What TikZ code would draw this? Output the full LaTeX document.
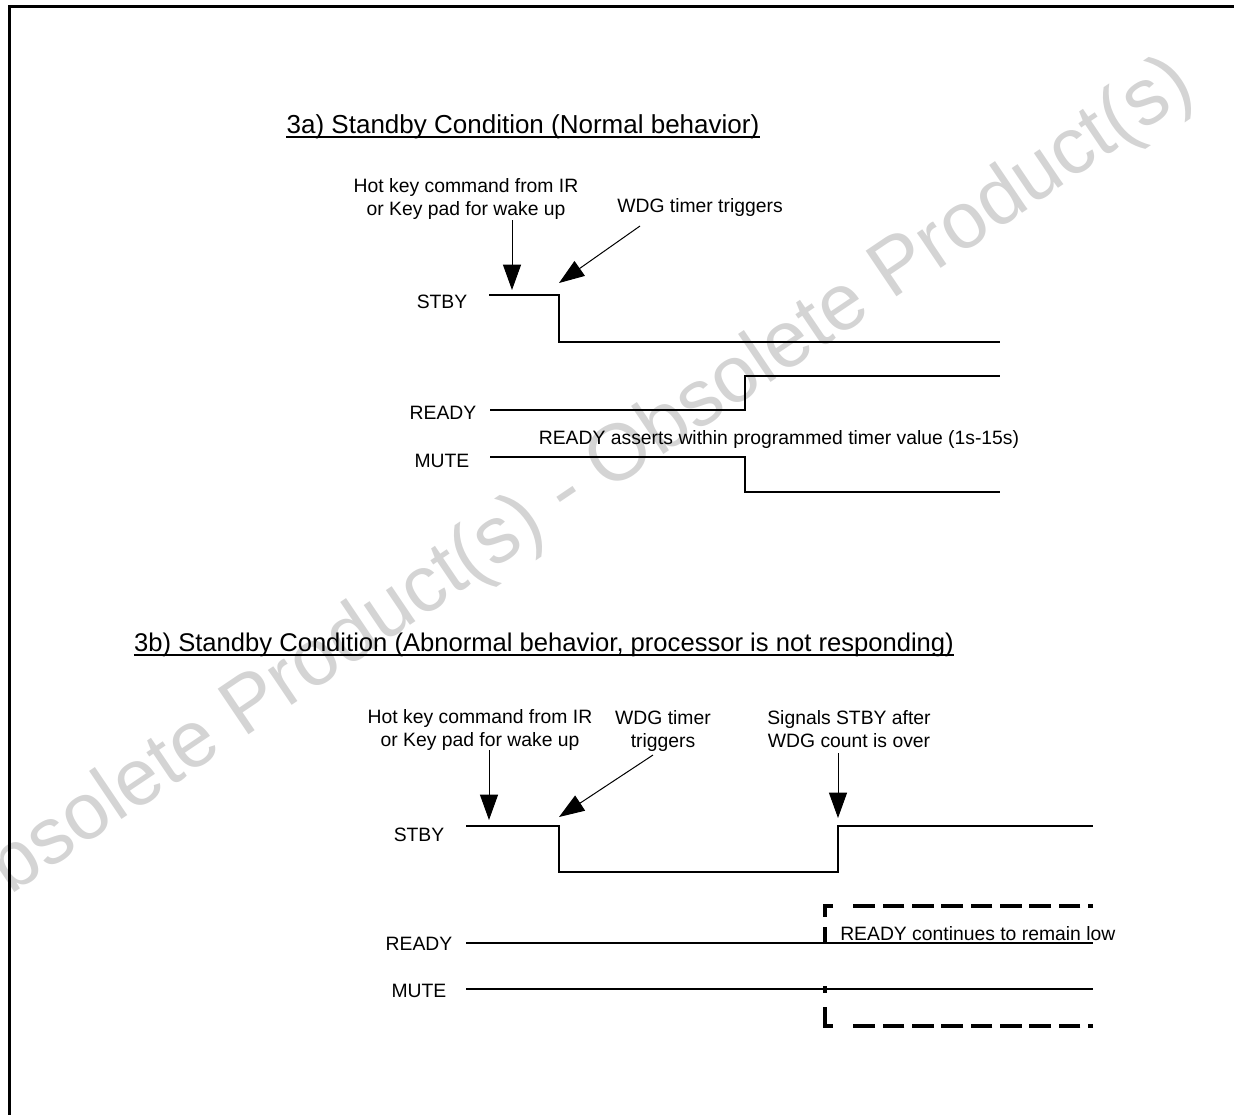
\documentclass[tikz,border=0pt]{standalone}
\usepackage{fontspec}
\setmainfont{Liberation Sans}
\usetikzlibrary{arrows.meta}
\definecolor{wmgray}{RGB}{212,212,212}
\tikzset{
  frameline/.style={line width=2.25pt},
  wave/.style={line width=1.1pt},
  arr/.style={line width=0.75pt,-{Triangle[length=19pt,width=13.5pt]}},
  lbl/.style={inner sep=0pt,font=\fontsize{14.5}{17.6}\selectfont},
  head/.style={inner sep=0pt,font=\fontsize{19.5}{23}\selectfont},
  uline/.style={line width=1.1pt},
  dashline/.style={line width=3pt,dash pattern=on 16.3pt off 5.7pt,dash phase=12.5pt},
  thickseg/.style={line width=3pt},
  wm/.style={inner sep=0pt,text=wmgray,font=\fontsize{60}{61}\selectfont}
}
\begin{document}
\begin{tikzpicture}[x=0.75pt,y=-0.75pt]
\useasboundingbox (0,0) rectangle (1234,1115);
\clip (0,0) rectangle (1234,1115);
% watermark
\node[wm,rotate=34] (wmark) at (567,495) {Obsolete Product(s) - Obsolete Product(s)};
% frame
\coordinate (fr0) at (1234,6.5);
\coordinate (fr1) at (9,6.5);
\coordinate (fr2) at (9,1115);
\draw[frameline] (fr0) -- (fr1) -- (fr2);

% ---------- 3a ----------
\node[head,anchor=base] (h3a) at (523,133) {3a) Standby Condition (Normal behavior)};
\draw[uline] ([yshift=-3pt]h3a.base west) -- ([yshift=-3pt]h3a.base east);

\node[lbl,align=center] (hk3a) at (466,199) {Hot key command from IR\\or Key pad for wake up};
\node[lbl,anchor=base] (wdg3a) at (700,212) {WDG timer triggers};

\node[lbl,anchor=base] (stby3a) at (442,308) {STBY};
\node[lbl,anchor=base] (ready3a) at (443,419) {READY};
\node[lbl,anchor=base] (mute3a) at (442,467) {MUTE};
\node[lbl,anchor=base] (note3a) at (779,444) {READY asserts within programmed timer value (1s-15s)};

\coordinate (a1s) at (512,220);
\coordinate (a1e) at (512,290);
\coordinate (a2s) at (640,226);
\coordinate (a2e) at (559,283);
\draw[arr] (a1s) -- (a1e);
\draw[arr] (a2s) -- (a2e);

\coordinate (sa0) at (489,295);
\coordinate (sa1) at (559,295);
\coordinate (sa2) at (559,342);
\coordinate (sa3) at (1000,342);
\draw[wave] (sa0) -- (sa1) -- (sa2) -- (sa3);

\coordinate (ra0) at (490,410);
\coordinate (ra1) at (745,410);
\coordinate (ra2) at (745,376);
\coordinate (ra3) at (1000,376);
\draw[wave] (ra0) -- (ra1) -- (ra2) -- (ra3);

\coordinate (ma0) at (490,457);
\coordinate (ma1) at (745,457);
\coordinate (ma2) at (745,492);
\coordinate (ma3) at (1000,492);
\draw[wave] (ma0) -- (ma1) -- (ma2) -- (ma3);

% ---------- 3b ----------
\node[head,anchor=base,font=\fontsize{19.2}{23}\selectfont] (h3b) at (544,651) {3b) Standby Condition (Abnormal behavior, processor is not responding)};
\draw[uline] ([yshift=-3pt]h3b.base west) -- ([yshift=-3pt]h3b.base east);

\node[lbl,align=center] (hk3b) at (480,730) {Hot key command from IR\\or Key pad for wake up};
\node[lbl,align=center] (wdg3b) at (663,731) {WDG timer\\triggers};
\node[lbl,align=center] (sig3b) at (849,729) {Signals STBY after\\WDG count is over};

\node[lbl,anchor=base] (stby3b) at (419,841) {STBY};
\node[lbl,anchor=base] (ready3b) at (419,950) {READY};
\node[lbl,anchor=base] (mute3b) at (419,997) {MUTE};
\node[lbl,anchor=base west] (note3b) at (840,940) {READY continues to remain low};

\coordinate (b1s) at (489,750);
\coordinate (b1e) at (489,820);
\coordinate (b2s) at (653,755);
\coordinate (b2e) at (559,817);
\coordinate (b3s) at (838,753);
\coordinate (b3e) at (838,818);
\draw[arr] (b1s) -- (b1e);
\draw[arr] (b2s) -- (b2e);
\draw[arr] (b3s) -- (b3e);

\coordinate (sb0) at (466,826);
\coordinate (sb1) at (559,826);
\coordinate (sb2) at (559,872);
\coordinate (sb3) at (838,872);
\coordinate (sb4) at (838,826);
\coordinate (sb5) at (1093,826);
\draw[wave] (sb0) -- (sb1) -- (sb2) -- (sb3) -- (sb4) -- (sb5);

\coordinate (rb0) at (466,943);
\coordinate (rb1) at (1093,943);
\draw[wave] (rb0) -- (rb1);
\coordinate (mb0) at (466,989);
\coordinate (mb1) at (1093,989);
\draw[wave] (mb0) -- (mb1);

% dashed region
\coordinate (dt0) at (1093,906);
\coordinate (dt1) at (852,906);
\coordinate (db0) at (1093,1026);
\coordinate (db1) at (852,1026);
\draw[dashline] (dt0) -- (dt1);
\draw[dashline] (db0) -- (db1);
\coordinate (ct0) at (833,906);
\coordinate (ct1) at (825,906);
\coordinate (ct2) at (825,917);
\draw[thickseg] (ct0) -- (ct1) -- (ct2);
\coordinate (vt0) at (825,927);
\coordinate (vt1) at (825,943);
\draw[thickseg] (vt0) -- (vt1);
\coordinate (vm0) at (825,986);
\coordinate (vm1) at (825,993);
\draw[thickseg] (vm0) -- (vm1);
\coordinate (cb0) at (825,1007);
\coordinate (cb1) at (825,1026);
\coordinate (cb2) at (833,1026);
\draw[thickseg] (cb0) -- (cb1) -- (cb2);
\end{tikzpicture}
\end{document}
